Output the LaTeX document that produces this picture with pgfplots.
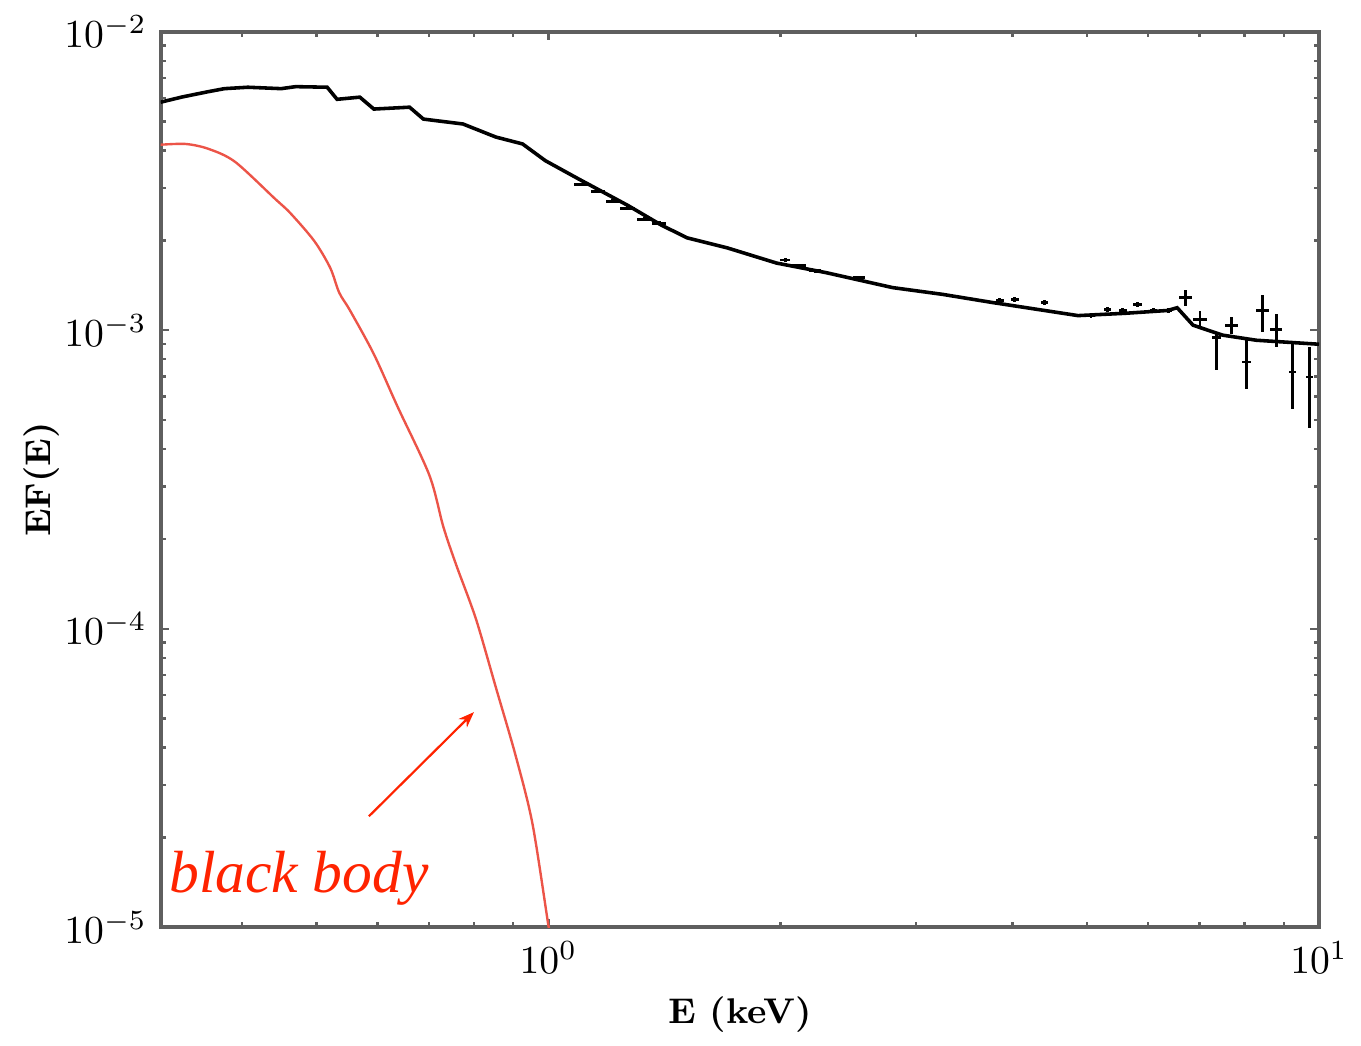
\documentclass[border=0pt]{standalone}
\usepackage{fontspec}
\usepackage{pgfplots}
\pgfplotsset{compat=1.18}
\usetikzlibrary{arrows.meta}
\newfontfamily\bbfont{Liberation Serif}
\definecolor{bbred}{RGB}{255,35,0}
\definecolor{curvered}{RGB}{236,84,72}
\definecolor{framegray}{RGB}{95,95,95}

\pgfplotstableread{
x y
0.3140 5.81e-3
0.3350 6.05e-3
0.3619 6.30e-3
0.3800 6.45e-3
0.4074 6.52e-3
0.4500 6.45e-3
0.4700 6.55e-3
0.5164 6.52e-3
0.5319 5.94e-3
0.5693 6.04e-3
0.5937 5.51e-3
0.6605 5.59e-3
0.6884 5.10e-3
0.7749 4.91e-3
0.8547 4.44e-3
0.9258 4.21e-3
0.9911 3.70e-3
1.093 3.22e-3
1.268 2.62e-3
1.402 2.25e-3
1.514 2.04e-3
1.705 1.89e-3
1.977 1.68e-3
2.293 1.56e-3
2.797 1.39e-3
3.244 1.32e-3
3.761 1.24e-3
4.867 1.12e-3
5.600 1.14e-3
6.356 1.165e-3
6.546 1.19e-3
6.864 1.04e-3
7.502 9.63e-4
8.296 9.26e-4
10.0 8.98e-4
}\modeltab

\pgfplotstableread{
x y
0.3120 4.18e-3
0.3380 4.21e-3
0.3620 4.055e-3
0.3920 3.671e-3
0.4414 2.765e-3
0.4628 2.466e-3
0.4969 1.991e-3
0.5211 1.619e-3
0.5353 1.337e-3
0.5529 1.165e-3
0.5937 8.32e-4
0.6373 5.55e-4
0.7008 3.27e-4
0.7306 2.20e-4
0.7589 1.644e-4
0.8054 1.079e-4
0.8547 6.37e-5
0.9068 3.76e-5
0.9537 2.22e-5
1.0000 1.015e-5
1.0050 9.5e-6
}\bbtab

\pgfplotstableread{
x ex y eyp eym
1.1027 0.023 3.079e-3 0.04e-3 0.04e-3
1.1596 0.024 2.918e-3 0.04e-3 0.04e-3
1.2125 0.025 2.703e-3 0.04e-3 0.04e-3
1.2675 0.027 2.562e-3 0.04e-3 0.04e-3
1.3331 0.028 2.355e-3 0.035e-3 0.035e-3
1.3936 0.029 2.284e-3 0.035e-3 0.035e-3
2.030 0.030 1.721e-3 0.025e-3 0.025e-3
2.110 0.050 1.644e-3 0.025e-3 0.025e-3
2.220 0.040 1.583e-3 0.025e-3 0.025e-3
2.528 0.045 1.500e-3 0.025e-3 0.025e-3
3.852 0.045 1.258e-3 0.025e-3 0.025e-3
4.027 0.048 1.268e-3 0.025e-3 0.025e-3
4.401 0.050 1.239e-3 0.025e-3 0.025e-3
5.058 0.060 1.122e-3 0.025e-3 0.025e-3
5.319 0.060 1.174e-3 0.025e-3 0.025e-3
5.561 0.065 1.165e-3 0.025e-3 0.025e-3
5.814 0.070 1.220e-3 0.025e-3 0.025e-3
6.096 0.070 1.165e-3 0.025e-3 0.025e-3
6.373 0.075 1.165e-3 0.025e-3 0.025e-3
6.704 0.130 1.288e-3 0.08e-3 0.08e-3
7.008 0.140 1.088e-3 0.07e-3 0.07e-3
7.368 0.100 9.478e-4 0.37e-4 2.11e-4
7.703 0.150 1.039e-3 0.07e-3 0.07e-3
8.054 0.100 7.826e-4 1.51e-4 1.46e-4
8.444 0.160 1.165e-3 0.152e-3 0.180e-3
8.805 0.160 1.008e-3 0.122e-3 0.130e-3
9.232 0.100 7.253e-4 1.73e-4 1.79e-4
9.708 0.100 6.980e-4 1.80e-4 2.29e-4
}\datatab

\begin{document}
\begin{tikzpicture}
\begin{axis}[
  xmode=log, ymode=log,
  width=292pt, height=225.75pt, scale only axis,
  xmin=0.314, xmax=10, ymin=1e-5, ymax=1e-2,
  axis line style={framegray, line width=1pt},
  tick style={framegray, line width=0.6pt},
  major tick length=2.2pt, minor tick length=1.3pt,
  tick align=inside,
  xlabel={E (keV)}, ylabel={EF(E)},
  label style={font=\fontsize{9}{11}\selectfont\bfseries},
  xlabel style={at={(axis description cs:0.5,-0.097)}, anchor=center},
  ylabel style={at={(axis description cs:-0.103,0.5)}, anchor=center},
  tick label style={font=\fontsize{10}{12}\selectfont},
]
\addplot[curvered, line width=0.6pt, smooth] table[x=x,y=y] {\bbtab};
\addplot[black, line width=0.9pt] table[x=x,y=y] {\modeltab};
\addplot[draw=none, mark=none,
  error bars/.cd, x dir=both, x explicit, y dir=both, y explicit, error mark=none,
  error bar style={draw=black, solid, line width=0.7pt}]
  table[x=x, y=y, x error=ex, y error plus=eyp, y error minus=eym] {\datatab};
\draw[bbred, line width=0.55pt, -{Stealth[length=4pt,width=3pt]}] (axis cs:0.585,2.355e-5) -- (axis cs:0.8007,5.26e-5);
\node[anchor=base west, inner sep=0pt, text=bbred, font=\bbfont\itshape\fontsize{15}{18}\selectfont] at (axis cs:0.3214,1.306e-5) {black body};
\end{axis}
\path[use as bounding box] (-40.5pt,-24pt) rectangle (299.75pt,233.75pt);
\end{tikzpicture}
\end{document}
